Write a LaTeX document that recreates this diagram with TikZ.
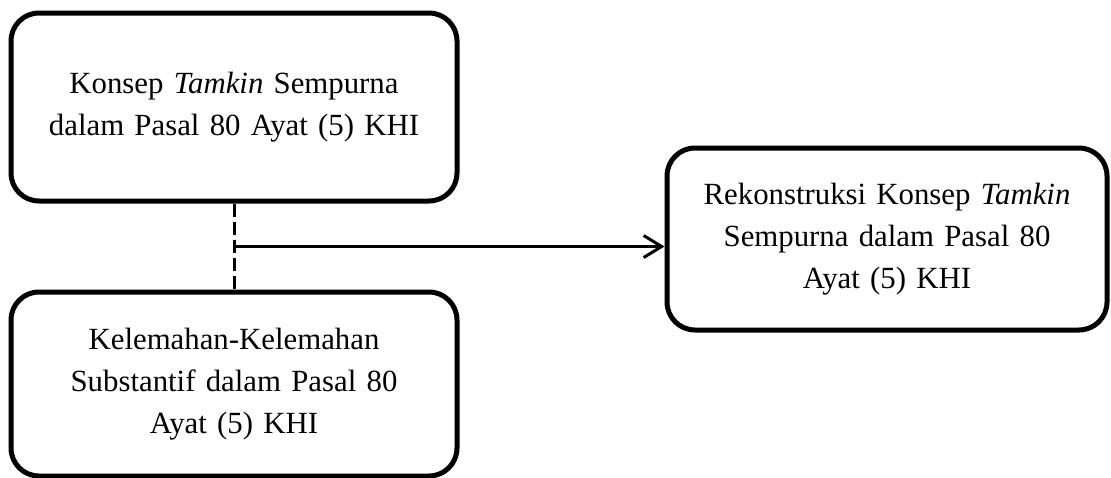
\documentclass[tikz,border=0pt]{standalone}
\usepackage{fontspec}
\setmainfont{Liberation Serif}
\usetikzlibrary{arrows.meta}

\tikzset{
    kotak/.style={draw, line width=2.5pt, rounded corners=14pt,
        minimum width=223pt, minimum height=94pt, inner sep=0pt,
        text width=212pt, align=center,
        font=\fontsize{15.4}{21}\selectfont},
    garis/.style={line width=1.5pt}
}

\begin{document}
\begin{tikzpicture}[x=0.5pt, y=-0.5pt]
                \useasboundingbox (0,0) rectangle (1111,477);

                % Boxes
                \node[kotak] (konsep) at (234,107)
                    {Konsep \textit{Tamkin} Sempurna\\dalam Pasal 80 Ayat (5) KHI};
                \node[kotak, minimum height=92pt] (kelemahan) at (234,384)
                    {Kelemahan-Kelemahan\\Substantif dalam Pasal 80\\Ayat (5) KHI};
                \node[kotak, minimum width=220pt, minimum height=91pt] (rekonstruksi) at (887,239)
                    {Rekonstruksi Konsep \textit{Tamkin}\\Sempurna dalam Pasal 80\\Ayat (5) KHI};

                % Connectors
                \draw[garis, dash pattern=on 6.5pt off 2.5pt] (konsep.south)
                    -- coordinate[midway] (tengah) (kelemahan.north);
                \draw[garis, -{Straight Barb[length=9pt, width=11pt]}]
                    (tengah) -- (tengah -| rekonstruksi.west);
            \end{tikzpicture}
\end{document}
